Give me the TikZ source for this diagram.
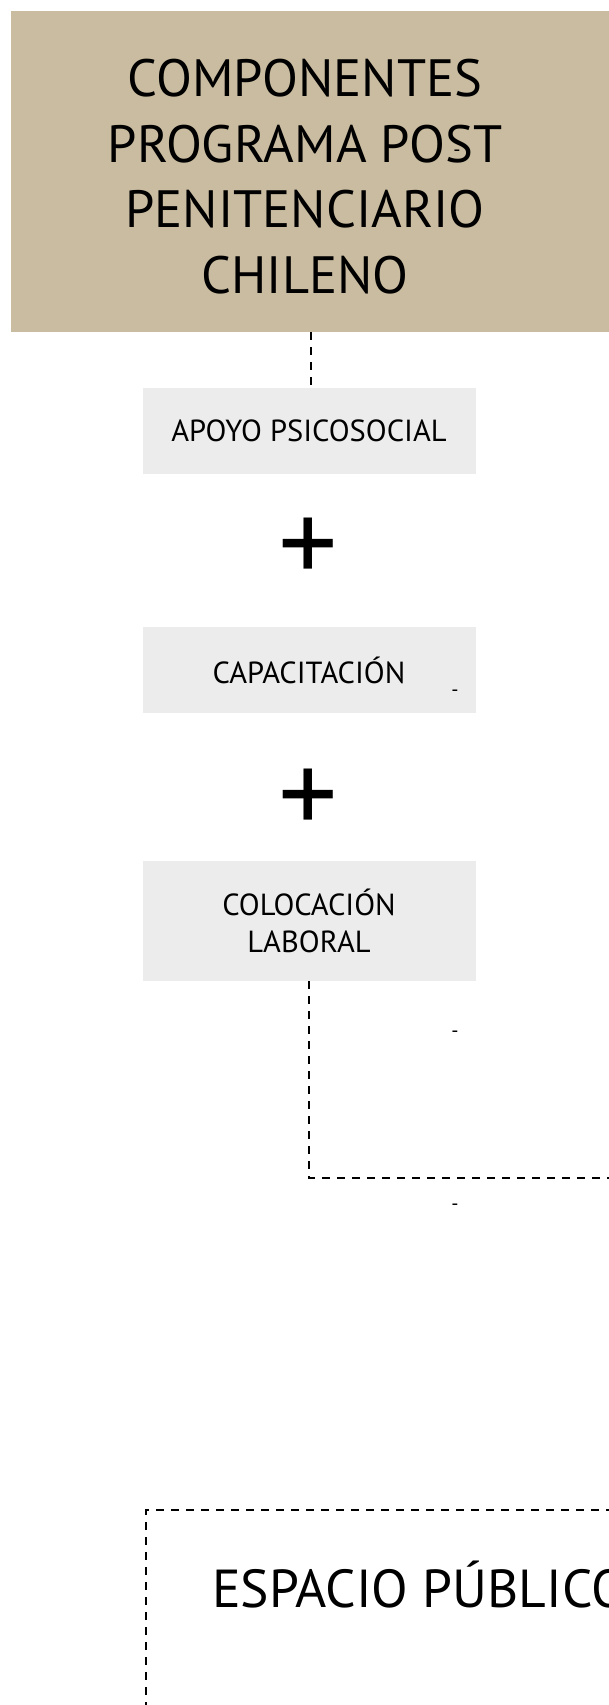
\documentclass[tikz,border=0pt]{standalone}
\usepackage{fontspec}
\setmainfont{PT Sans}
\definecolor{beige}{RGB}{202,188,160}
\definecolor{boxgray}{RGB}{236,236,236}
\begin{document}
\begin{tikzpicture}[x=1pt,y=-1pt,
  comp/.style={fill=boxgray, minimum width=333pt, inner sep=0pt, align=center,
    font=\fontsize{30.5}{37}\selectfont},
  plussign/.style={font=\fontsize{118}{118}\selectfont, inner sep=0pt},
  conn/.style={line width=1.8pt, dash pattern=on 8pt off 7pt},
  tick/.style={font=\fontsize{20}{20}\selectfont, inner sep=0pt}]
\useasboundingbox (0,0) rectangle (609,1705);
\clip (0,0) rectangle (609,1705);
% title box
\node[fill=beige, minimum width=620pt, minimum height=321pt, inner sep=0pt, anchor=north west] (title) at (11,11) {};
\node[align=center, font=\fontsize{52.5}{65.5}\selectfont, inner sep=0pt, anchor=base] (titletext) at (305,293)
  {COMPONENTES\\PROGRAMA POST\\PENITENCIARIO\\CHILENO};
% component boxes
\node[comp, minimum height=86pt] (apoyo) at (309,431) {APOYO PSICOSOCIAL};
\node[plussign] (plus1) at (308,551) {+};
\node[comp, minimum height=86pt] (capa) at (309,670) {CAPACITACIÓN};
\node[plussign] (plus2) at (308,802) {+};
\node[comp, minimum height=120pt] (colo) at (309,921) {COLOCACIÓN\\LABORAL};
% connectors
\coordinate (titlebottom) at (311,332);
\draw[conn] (titlebottom) -- (311,387);
\coordinate (corner) at (309,1178);
\coordinate (rightend) at (640,1178);
\draw[conn] (colo.south -| corner) -- (corner) -- (rightend);
% small ticks
\node[tick] (t0) at (457,153) {-};
\node[tick] (t1) at (455,693) {-};
\node[tick] (t2) at (455,1034) {-};
\node[tick] (t3) at (455,1207) {-};
% bottom dashed box
\draw[conn, line width=1.4pt] (146,1740) -- (146,1510) -- (650,1510);
\node[font=\fontsize{53.5}{53.5}\selectfont, inner sep=0pt, anchor=base west] (espacio) at (212,1607) {ESPACIO PÚBLICO};
\end{tikzpicture}
\end{document}
